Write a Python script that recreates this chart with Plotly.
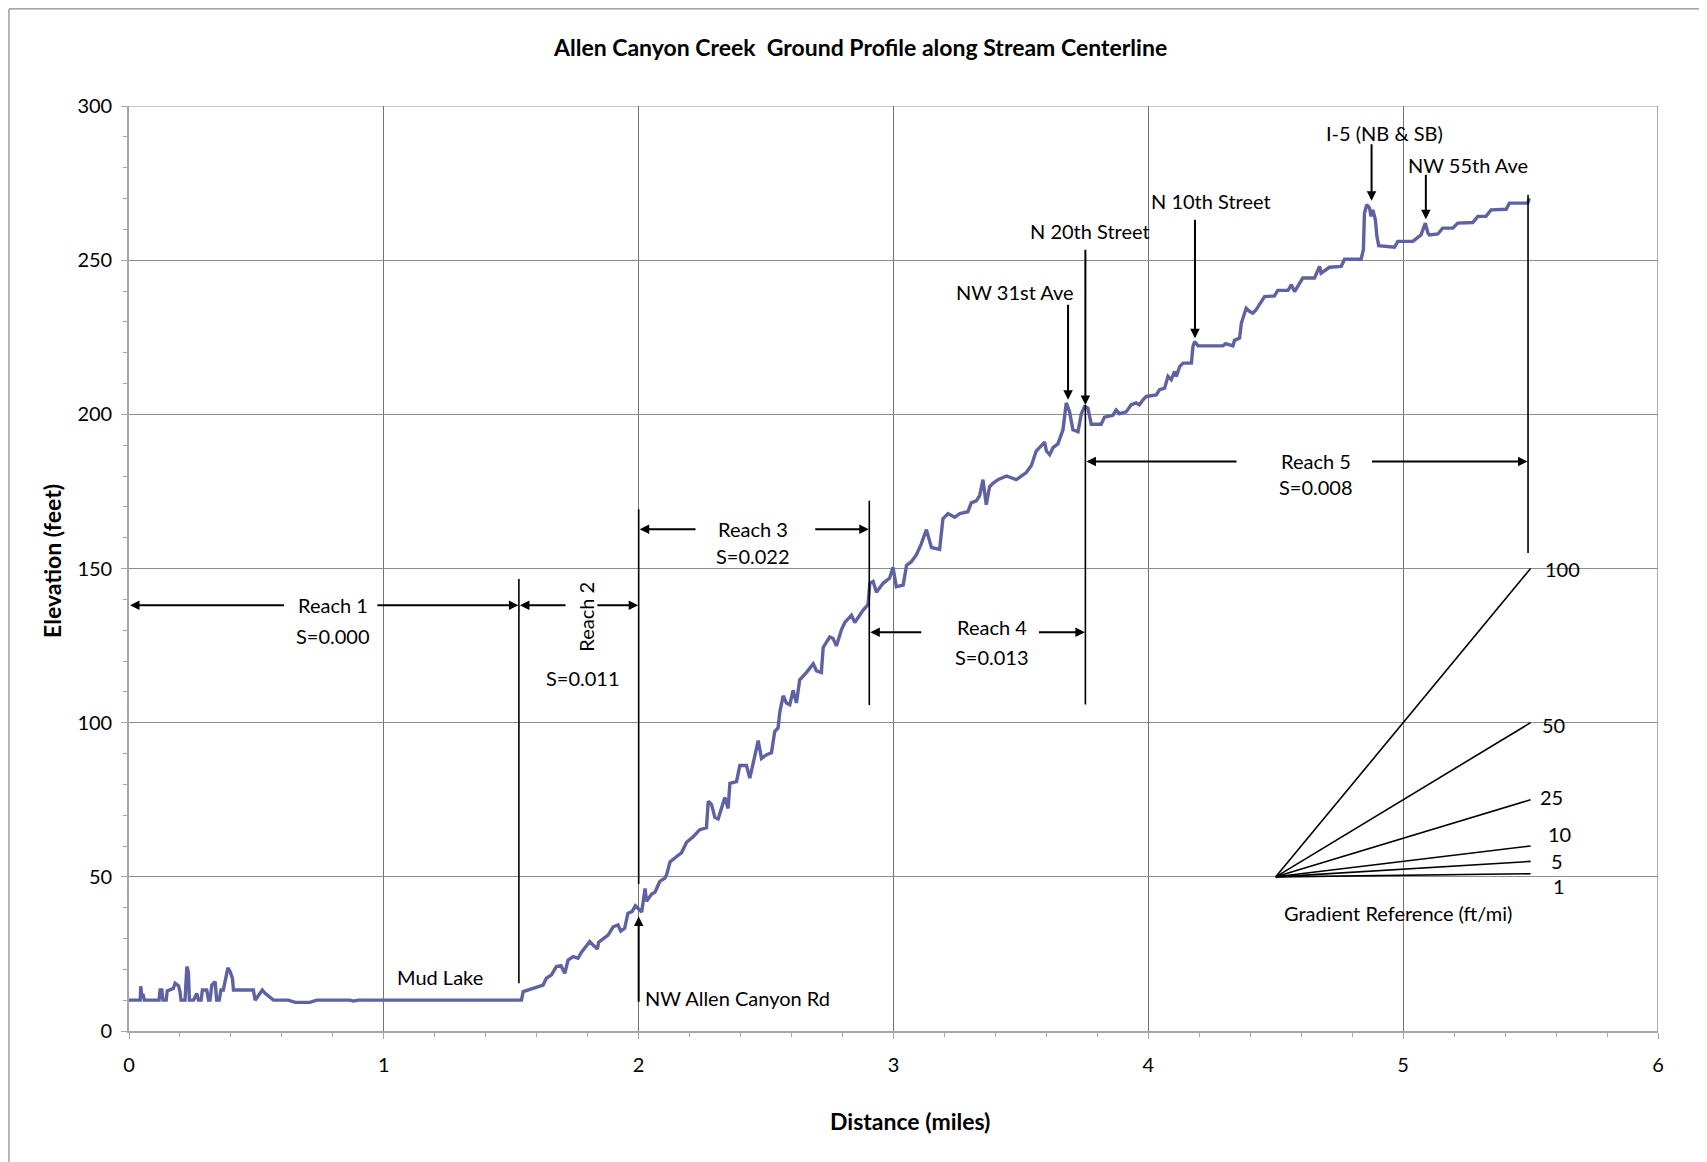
import plotly.graph_objects as go

# ---------------- DATA ----------------
distance_mi = [
    0.000, 0.044, 0.046, 0.050, 0.055, 0.060,
    0.118, 0.122, 0.129, 0.133,
    0.146, 0.150, 0.174, 0.181, 0.194, 0.200, 0.204,
    0.220, 0.227, 0.233, 0.237,
    0.253, 0.266, 0.272,
    0.283, 0.288, 0.305, 0.312,
    0.318, 0.325, 0.338, 0.344,
    0.354, 0.361, 0.370, 0.380, 0.388, 0.397, 0.406, 0.410,
    0.488, 0.495,
    0.514, 0.523, 0.534, 0.553, 0.567,
    0.625, 0.652, 0.710, 0.737,
    0.867, 0.880, 0.900, 1.540,
    1.547, 1.586, 1.625, 1.638, 1.658, 1.677, 1.695, 1.710, 1.723, 1.743,
    1.762, 1.775, 1.808, 1.821, 1.838, 1.843, 1.880, 1.900, 1.919, 1.930,
    1.945, 1.958, 1.974, 1.987, 1.998,
    2.012, 2.025, 2.031, 2.051, 2.064, 2.083, 2.103, 2.110, 2.123, 2.149,
    2.168, 2.188, 2.214, 2.240, 2.266, 2.273, 2.286, 2.299, 2.312, 2.325,
    2.338, 2.351, 2.358, 2.384, 2.397, 2.423, 2.436, 2.449, 2.469, 2.482,
    2.502, 2.521, 2.534, 2.547, 2.554, 2.567, 2.580, 2.593, 2.606, 2.619,
    2.632, 2.659, 2.685, 2.698, 2.717, 2.724, 2.750, 2.763, 2.776, 2.796,
    2.809, 2.835, 2.848, 2.881, 2.900, 2.907, 2.920, 2.933, 2.959, 2.985,
    2.998, 3.011, 3.038, 3.051, 3.070, 3.090, 3.109, 3.129, 3.149, 3.181,
    3.194, 3.214, 3.240, 3.260, 3.292, 3.305, 3.325, 3.338,
    3.351, 3.364, 3.377, 3.390, 3.410, 3.443, 3.482, 3.521, 3.541, 3.560,
    3.593, 3.600, 3.613, 3.626, 3.645, 3.665, 3.678, 3.691, 3.704, 3.724,
    3.737, 3.750, 3.763, 3.776, 3.815, 3.828, 3.861, 3.874, 3.887, 3.913,
    3.933, 3.952, 3.965,
    3.979, 3.992, 4.031, 4.044, 4.064, 4.077, 4.090, 4.103, 4.110, 4.123,
    4.136, 4.169, 4.175, 4.182, 4.195, 4.293, 4.303, 4.332, 4.338, 4.358,
    4.365, 4.378, 4.384, 4.397, 4.410, 4.423, 4.456, 4.495, 4.508, 4.548,
    4.561, 4.574, 4.593, 4.606, 4.652, 4.665, 4.672, 4.678, 4.711, 4.757,
    4.770, 4.835, 4.844, 4.848, 4.857, 4.868, 4.874, 4.881, 4.891, 4.897,
    4.904, 4.966, 4.979, 5.038, 5.051, 5.070, 5.087, 5.097, 5.103, 5.136,
    5.155, 5.195, 5.214, 5.273, 5.293, 5.325, 5.345, 5.404, 5.417, 5.489, 5.495,
]
elevation_ft = [
    10, 10, 14.5, 11.5, 12, 10,
    10, 13.3, 13.3, 10,
    10, 13, 13.8, 15.5, 14.7, 12.8, 10,
    10, 20.9, 19.2, 10,
    10, 12.2, 10,
    10, 13.3, 13.3, 10,
    10, 14.9, 16, 10,
    10, 13.3, 13.3, 17.1, 20.5, 19.2, 17.1, 13.3,
    13.3, 10,
    12.2, 13.3, 12.2, 10.8, 10,
    10, 9.3, 9.3, 10,
    10, 9.7, 10, 10,
    12.8, 13.8, 14.9, 17.1, 18.2, 20.9, 21.2, 18.7, 23, 24.1,
    23.6, 25.5, 29, 27.9, 26.6, 28.8, 31.1, 33.8, 34.4, 32.4,
    33.3, 38.2, 38.7, 40.6, 39.6,
    38.6, 46.2, 42.1, 44.4, 45, 48.5, 49.6, 50.8, 54.8, 56.6,
    57.8, 61.2, 63, 65.3, 65.9, 74.5, 73.4, 69.3, 68.8, 72.2,
    75.7, 72.2, 80.3, 80.9, 86.1, 86.1, 82, 86.7, 94.2, 88.4,
    89.6, 90.2, 97.1, 98.3, 103.5, 108.7, 106.4, 105.8, 110.5, 106.4,
    113.9, 116.3, 119.1, 116.8, 116.3, 124.4, 127.8, 127.3, 124.9, 130.2,
    132.5, 134.8, 132.5, 136.5, 138.3, 145.2, 145.8, 142.3, 145.2, 146.9,
    150.4, 144.1, 144.6, 151, 152.2, 154.5, 158, 162.6, 156.8, 156.2,
    166.1, 167.8, 166.6, 167.8, 168.4, 171.3, 171.9, 173.6,
    178.8, 170.7, 176.5, 177.6, 178.8, 180, 178.8, 181.1, 183.4, 188.1,
    191, 188.1, 186.9, 189.2, 190.4, 195, 203.7, 200.8, 195, 194.4,
    200.2, 202.5, 202, 196.8, 196.8, 199.1, 199.7, 201.4, 200.2, 200.8,
    203.1, 203.7, 203.1,
    204.7, 205.8, 206.3, 208, 208.5, 212.3, 211.2, 213.9, 212.3, 215.5,
    216.6, 216.6, 222, 223.6, 222.2, 222.2, 222.9, 222.2, 224, 224.7,
    229.6, 232.8, 234.4, 233.4, 232.8, 233.9, 238.2, 238.4, 240.2, 240.2,
    242, 239.8, 242.5, 244.2, 244.2, 246.3, 248, 245.8, 247.7, 248,
    250.3, 250.3, 253.4, 265.2, 268, 266.9, 264.2, 266.3, 263.1, 257.7,
    254.7, 254.2, 256.1, 256.1, 257.1, 258.2, 262, 258.8, 258.2, 258.5,
    260.4, 260.4, 262, 262.2, 264.2, 264.2, 266.3, 266.5, 268.5, 268.5, 270.1,
]
assert len(distance_mi) == len(elevation_ft)

reach_names = ["Reach 1", "Reach 2", "Reach 3", "Reach 4", "Reach 5"]
reach_slopes = ["S=0.000", "S=0.011", "S=0.022", "S=0.013", "S=0.008"]
reach_start_mi = [0.0, 1.53, 2.0, 2.905, 3.753]
reach_end_mi = [1.53, 2.0, 2.905, 3.753, 5.49]

street_names = ["NW 31st Ave", "N 20th Street", "N 10th Street", "I-5 (NB & SB)", "NW 55th Ave"]
street_mi = [3.685, 3.753, 4.183, 4.876, 5.089]
street_ft = [204.7, 203.0, 224.7, 269.3, 263.3]

road_name = "NW Allen Canyon Rd"
road_mi = 2.0
road_ft = 37.1

gradient_labels = ["100", "50", "25", "10", "5", "1"]
gradient_ft_per_mi = [100, 50, 25, 10, 5, 1]
gradient_origin = (4.5, 50)

x_ticks = [0, 1, 2, 3, 4, 5, 6]
y_ticks = [0, 50, 100, 150, 200, 250, 300]

# ---------------- FIGURE ----------------
FONT = "Lato"
TXT = dict(family=FONT, size=20, color="black")

fig = go.Figure()

# gradient reference fan
for s in gradient_ft_per_mi:
    fig.add_trace(go.Scatter(
        x=[gradient_origin[0], gradient_origin[0] + 1.0],
        y=[gradient_origin[1], gradient_origin[1] + s],
        mode="lines", line=dict(color="black", width=1.6),
        hoverinfo="skip", showlegend=False))

# profile
fig.add_trace(go.Scatter(
    x=distance_mi, y=elevation_ft, mode="lines",
    line=dict(color="#5F62A2", width=3.4),
    hoverinfo="skip", showlegend=False))


def vline(x, y0, y1, w=1.6):
    fig.add_shape(type="line", xref="x", yref="y", x0=x, x1=x, y0=y0, y1=y1,
                  line=dict(color="black", width=w))


def arrow(x0, y0, x1, y1):
    fig.add_annotation(x=x1, y=y1, ax=x0, ay=y0, xref="x", yref="y",
                       axref="x", ayref="y", text="", showarrow=True,
                       arrowhead=2, arrowsize=0.95, arrowwidth=2,
                       arrowcolor="black", standoff=0, startstandoff=0)


def label(x, y, t, anchor="center", angle=0):
    fig.add_annotation(x=x, y=y, xref="x", yref="y", text=t, showarrow=False,
                       font=TXT, xanchor=anchor, yanchor="middle",
                       textangle=angle)


# top and right plot-area gridlines
fig.add_shape(type="line", xref="x", yref="y", x0=0, x1=6, y0=300, y1=300,
              line=dict(color="#8c8c8c", width=1), layer="below")
fig.add_shape(type="line", xref="x", yref="y", x0=6, x1=6, y0=0, y1=300,
              line=dict(color="#747474", width=1.2), layer="below")

# reach boundary lines
vline(reach_end_mi[0], 15.5, 146.6)
vline(reach_end_mi[1], 47.7, 169.2)
vline(reach_end_mi[2], 105.7, 172.0)
vline(reach_end_mi[3], 105.9, 203.0)
vline(reach_end_mi[4], 155.0, 271.2)

# reach dimension arrows and labels
arrow_y = [138.1, 138.1, 162.7, 129.3, 184.7]
gap_left = [0.614, 1.719, 2.229, 3.115, 4.352]
gap_right = [0.969, 1.832, 2.687, 3.565, 4.872]
for i in range(5):
    arrow(gap_left[i], arrow_y[i], reach_start_mi[i] + 0.004, arrow_y[i])
    arrow(gap_right[i], arrow_y[i], reach_end_mi[i] - 0.002, arrow_y[i])

label(0.80, 138.1, reach_names[0])
label(0.80, 128.2, reach_slopes[0])
label(1.79, 134.4, reach_names[1], angle=-90)
label(1.78, 114.4, reach_slopes[1])
label(2.447, 162.7, reach_names[2])
label(2.447, 154.2, reach_slopes[2])
label(3.388, 131.0, reach_names[3])
label(3.388, 121.2, reach_slopes[3])
label(4.656, 185.0, reach_names[4])
label(4.656, 176.4, reach_slopes[4])

# street crossing arrows
street_tail_ft = [236.0, 253.9, 263.6, 288.1, 278.2]
street_label_xy = [(3.475, 239.8), (3.77, 259.3), (4.246, 269.3),
                   (4.925, 291.2), (5.256, 281.0)]
for i, name in enumerate(street_names):
    arrow(street_mi[i], street_tail_ft[i], street_mi[i], street_ft[i])
    label(street_label_xy[i][0], street_label_xy[i][1], name)

arrow(road_mi, 9.0, road_mi, road_ft)
label(2.018, 10.8, road_name, anchor="left")
label(1.221, 17.6, "Mud Lake")

# gradient labels
grad_label_xy = [(5.626, 150.0), (5.59, 99.3), (5.583, 76.0),
                 (5.613, 63.8), (5.603, 55.2), (5.613, 47.1)]
for (gx, gy), t in zip(grad_label_xy, gradient_labels):
    label(gx, gy, t)
label(4.979, 38.2, "Gradient Reference (ft/mi)")

# titles
fig.add_annotation(x=0.4781, y=1.0638, xref="paper", yref="paper",
                   text="<b>Allen Canyon Creek  Ground Profile along Stream Centerline</b>",
                   showarrow=False, font=dict(family=FONT, size=23, color="black"),
                   xanchor="center", yanchor="middle")
fig.add_annotation(x=0.5108, y=-0.0973, xref="paper", yref="paper",
                   text="<b>Distance (miles)</b>", showarrow=False,
                   font=dict(family=FONT, size=23, color="black"),
                   xanchor="center", yanchor="middle")
fig.add_annotation(x=-0.0504, y=0.5081, xref="paper", yref="paper",
                   text="<b>Elevation (feet)</b>", showarrow=False, textangle=-90,
                   font=dict(family=FONT, size=23, color="black"),
                   xanchor="center", yanchor="middle")

# chart-area border (left and top edges), kept just inside the svg
BX = -0.0785
BY = 1.1050
fig.add_shape(type="line", xref="paper", yref="paper", x0=BX, x1=BX,
              y0=BY, y1=-0.16, line=dict(color="#8a8a8a", width=1.2))
fig.add_shape(type="line", xref="paper", yref="paper", x0=BX, x1=1.05,
              y0=BY, y1=BY, line=dict(color="#8a8a8a", width=1.2))

# the page body adds an 8 px offset, so margins are reduced by 8 on left/top
fig.update_layout(
    width=1707, height=1162,
    margin=dict(l=121, r=57, t=98, b=139),
    paper_bgcolor="white", plot_bgcolor="white",
    font=dict(family=FONT, color="black"),
    showlegend=False,
)
fig.update_xaxes(
    range=[0, 6], tickvals=x_ticks, ticktext=[str(v) for v in x_ticks],
    showgrid=True, gridcolor="#747474", gridwidth=1.2,
    zeroline=False, showline=True, linecolor="#a6a6a6", linewidth=1.6,
    ticks="outside", ticklen=6, tickcolor="#a6a6a6", tickwidth=1,
    tickfont=dict(family=FONT, size=20, color="black"),
    ticklabelstandoff=9,
    minor=dict(dtick=0.2, ticks="outside", ticklen=4, tickcolor="#a6a6a6",
               showgrid=False),
)
fig.update_yaxes(
    range=[0, 300], tickvals=y_ticks, ticktext=[str(v) for v in y_ticks],
    showgrid=True, gridcolor="#8c8c8c", gridwidth=1,
    zeroline=False, showline=True, linecolor="#a6a6a6", linewidth=1.6,
    ticks="outside", ticklen=6, tickcolor="#a6a6a6", tickwidth=1,
    tickfont=dict(family=FONT, size=20, color="black"),
    ticklabelstandoff=5,
    minor=dict(dtick=10, ticks="outside", ticklen=4, tickcolor="#a6a6a6",
               showgrid=False),
)

fig.write_html("out.html")
